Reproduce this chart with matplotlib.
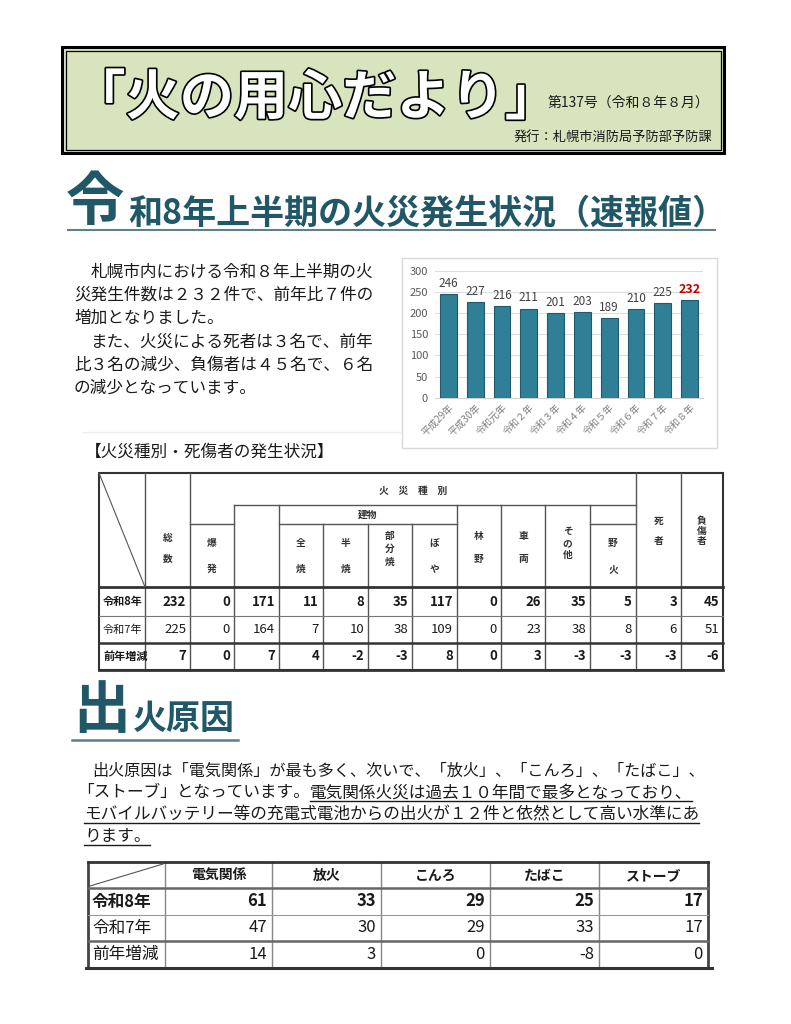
import matplotlib
matplotlib.use('Agg')
import matplotlib.pyplot as plt
import matplotlib.patheffects as pe
from matplotlib.patches import Rectangle

plt.rcParams['font.family'] = ['Noto Sans CJK JP', 'DejaVu Sans']

# ---- data ----
years = ['平成29年', '平成30年', '令和元年', '令和２年', '令和３年',
         '令和４年', '令和５年', '令和６年', '令和７年', '令和８年']
fires = [246, 227, 216, 211, 201, 203, 189, 210, 225, 232]

kind_cols = ['総数', '爆発', '建物', '全焼', '半焼', '部分焼', 'ぼや',
             '林野', '車両', 'その他', '野火', '死者', '負傷者']
row_labels = ['令和8年', '令和7年', '前年増減']
r8 = [232, 0, 171, 11, 8, 35, 117, 0, 26, 35, 5, 3, 45]
r7 = [225, 0, 164, 7, 10, 38, 109, 0, 23, 38, 8, 6, 51]
r_diff = [7, 0, 7, 4, -2, -3, 8, 0, 3, -3, -3, -3, -6]

causes = ['電気関係', '放火', 'こんろ', 'たばこ', 'ストーブ']
c8 = [61, 33, 29, 25, 17]
c7 = [47, 30, 29, 33, 17]
c_diff = [14, 3, 0, -8, 0]

TEAL = '#215868'
INK = '#1a1a1a'

fig = plt.figure(figsize=(7.91, 10.24), dpi=100)
ax = fig.add_axes([0, 0, 1, 1])
ax.set_xlim(0, 791)
ax.set_ylim(1024, 0)
ax.axis('off')

# ---- header box ----
ax.add_patch(Rectangle((62, 47), 662, 106, facecolor='#d7e4bd', edgecolor='black', lw=2.2))
ax.add_patch(Rectangle((65.5, 50.5), 655, 99, facecolor='none', edgecolor='black', lw=0.9))
ax.text(315, 99, '「火の用心だより」', fontsize=39, weight='bold', color='white',
        ha='center', va='center',
        path_effects=[pe.withStroke(linewidth=2.4, foreground='black')])
ax.text(548, 103, '第137号（令和８年８月）', fontsize=10, color=INK, va='center')
ax.text(712, 137, '発行：札幌市消防局予防部予防課', fontsize=9.5, color=INK,
        ha='right', va='center')

# ---- heading 1 ----
ax.text(66, 203, '令', fontsize=42, weight='bold', color=TEAL, va='center')
ax.text(128, 213, '和8年上半期の火災発生状況（速報値）', fontsize=24.5, weight='bold',
        color=TEAL, va='center')
ax.plot([68, 715], [230, 230], color='#5f808b', lw=1.5)

# ---- paragraph 1 ----
para1 = [(91, '札幌市内における令和８年上半期の火'),
         (74, '災発生件数は２３２件で、前年比７件の'),
         (74, '増加となりました。'),
         (91, 'また、火災による死者は３名で、前年'),
         (74, '比３名の減少、負傷者は４５名で、６名'),
         (74, 'の減少となっています。')]
for i, (x0, line) in enumerate(para1):
    ax.text(x0, 272 + i * 23.3, line, fontsize=12, color=INK, va='center')
ax.plot([83, 400], [432, 432], color='#eeeeee', lw=1)

# ---- bar chart ----
ax.add_patch(Rectangle((402, 258), 315, 190, facecolor='white', edgecolor='#d9d9d9', lw=1))
cax = fig.add_axes([435 / 791, 1 - 397.7 / 1024, 268 / 791, (397.7 - 271) / 1024])
xpos = list(range(len(years)))
cax.bar(xpos, fires, width=0.62, color='#2f7f96', edgecolor='#235a6b', lw=0.8, zorder=3)
cax.set_xlim(-0.5, 9.5)
cax.set_ylim(0, 300)
cax.set_yticks(range(0, 301, 50))
cax.grid(axis='y', color='#dcdcdc', lw=0.8, zorder=0)
for s in ['top', 'right', 'left']:
    cax.spines[s].set_visible(False)
cax.spines['bottom'].set_color('#d0d0d0')
cax.tick_params(axis='y', length=0, labelsize=8, labelcolor='#595959', pad=5)
cax.tick_params(axis='x', length=0, pad=3)
cax.set_xticks(xpos)
cax.set_xticklabels(years, rotation=45, ha='right', rotation_mode='anchor',
                    fontsize=7, color='#7f7f7f')
for i, v in enumerate(fires):
    last = i == len(fires) - 1
    cax.annotate(str(v), (i, v), xytext=(0, 3), textcoords='offset points',
                 ha='center', va='bottom', fontsize=9 if last else 8.5,
                 weight='bold' if last else 'normal',
                 color='#c00000' if last else '#404040')

# ---- table 1 ----
ax.text(85, 452, '【火災種別・死傷者の発生状況】', fontsize=12, color=INK, va='center')

xs = [99, 145, 190, 234, 279, 323, 368, 412, 457, 501, 545, 590, 636, 681, 723]
t_top, y_a, y_b, h_bot, y_r1, y_r2, t_bot = 473, 505, 524, 587, 616, 643, 670
grid_c = '#555555'

ax.add_patch(Rectangle((xs[0], t_top), xs[-1] - xs[0], t_bot - t_top,
                       facecolor='none', edgecolor='#333333', lw=1.5))
# vertical lines
for x0 in [145, 190, 636, 681]:
    ax.plot([x0, x0], [t_top, t_bot], color=grid_c, lw=1)
for x0 in [234, 279, 457, 501, 545, 590]:
    ax.plot([x0, x0], [y_a, t_bot], color=grid_c, lw=1)
for x0 in [323, 368, 412]:
    ax.plot([x0, x0], [y_b, t_bot], color=grid_c, lw=1)
# horizontal lines
ax.plot([234, 636], [y_a, y_a], color=grid_c, lw=1)
for a, b in [(190, 234), (279, 457), (590, 636)]:
    ax.plot([a, b], [y_b, y_b], color=grid_c, lw=1)
ax.plot([xs[0], xs[-1]], [h_bot, h_bot], color='#333333', lw=2)
ax.plot([xs[0], xs[-1]], [y_r1, y_r1], color='#777777', lw=0.8)
ax.plot([xs[0], xs[-1]], [y_r2, y_r2], color='#333333', lw=1.8)
ax.plot([xs[0], xs[-1]], [t_bot, t_bot], color='#333333', lw=2)
ax.plot([xs[0], xs[1]], [t_top, h_bot], color='#555555', lw=0.8)

ax.text(413, 491, '火　災　種　別', fontsize=7, weight='bold', color='#333333',
        ha='center', va='center')
ax.text((279 + 457) / 2, 515, '建物', fontsize=7, weight='bold', color='#333333',
        ha='center', va='center')

# header character positions (top y, step) per column
head_pos = {'総数': (538, 21), '爆発': (543, 26), '全焼': (543, 26), '半焼': (543, 26),
            '部分焼': (536, 13), 'ぼや': (543, 26), '林野': (536, 23), '車両': (536, 23),
            'その他': (531, 12), '野火': (543, 26), '死者': (521, 20), '負傷者': (521, 10)}
for j, name in enumerate(kind_cols):
    if name not in head_pos:
        continue
    cx = (xs[j + 1] + xs[j + 2]) / 2
    y0, step = head_pos[name]
    for k, ch in enumerate(name):
        ax.text(cx, y0 + k * step, ch, fontsize=7, weight='bold', color='#333333',
                ha='center', va='center')

row_y = [601.5, 629.5, 656.5]
for r, (lab, vals) in enumerate(zip(row_labels, [r8, r7, r_diff])):
    bold = 'normal' if r == 1 else 'bold'
    ax.text(103, row_y[r], lab, fontsize=8, weight=bold, color=INK, va='center')
    for j, v in enumerate(vals):
        ax.text(xs[j + 2] - 4, row_y[r], str(v), fontsize=9.5, weight=bold,
                color=INK, ha='right', va='center')

# ---- heading 2 ----
ax.text(73, 711, '出', fontsize=41, weight='bold', color=TEAL, va='center')
ax.text(133, 718, '火原因', fontsize=24.5, weight='bold', color=TEAL, va='center')
ax.plot([72, 238], [740, 740], color='#5f808b', lw=1.8)

# ---- paragraph 2 ----
renderer = fig.canvas.get_renderer()
inv = ax.transData.inverted()


def underline(t, pad=0.0):
    bb = t.get_window_extent(renderer)
    (x0, y0), (x1, y1) = inv.transform([[bb.x0, bb.y0], [bb.x1, bb.y1]])
    yb = max(y0, y1) - 1 + pad
    ax.plot([x0, x1], [yb, yb], color=INK, lw=1)


ax.text(92, 771, '出火原因は「電気関係」が最も多く、次いで、「放火」、「こんろ」、「たばこ」、',
        fontsize=11.6, color=INK, va='center')
t_a = ax.text(77, 793, '「ストーブ」となっています。', fontsize=12, color=INK, va='center')
bb = t_a.get_window_extent(renderer)
x_end = inv.transform([[bb.x1, bb.y0]])[0][0]
t_b = ax.text(x_end, 793, '電気関係火災は過去１０年間で最多となっており、',
              fontsize=12, color=INK, va='center')
underline(t_b)
t_c = ax.text(84, 815, 'モバイルバッテリー等の充電式電池からの出火が１２件と依然として高い水準にあ',
              fontsize=12, color=INK, va='center')
underline(t_c)
t_d = ax.text(84, 837, 'ります。', fontsize=12, color=INK, va='center')
underline(t_d)

# ---- table 2 ----
xs2 = [88, 165, 272, 381, 490, 599, 708]
ys2 = [862, 888, 915, 941, 968]
for x0 in xs2[1:-1]:
    ax.plot([x0, x0], [ys2[0], ys2[-1]], color='#888888', lw=1)
ax.plot([xs2[0], xs2[0]], [ys2[0], ys2[-1]], color='#444444', lw=2)
ax.plot([xs2[-1], xs2[-1]], [ys2[0], ys2[-1]], color='#444444', lw=2)
ax.plot([xs2[0], xs2[-1]], [ys2[0], ys2[0]], color='#333333', lw=2)
ax.plot([xs2[0], xs2[-1]], [ys2[1], ys2[1]], color='#666666', lw=1.8)
ax.plot([xs2[0], xs2[-1]], [ys2[2], ys2[2]], color='#999999', lw=0.8)
ax.plot([xs2[0], xs2[-1]], [ys2[3], ys2[3]], color='#666666', lw=1.8)
ax.plot([xs2[0] - 2, xs2[-1] + 4], [ys2[4], ys2[4]], color='#333333', lw=2.2)
ax.plot([xs2[0] + 2, xs2[1] - 2], [ys2[1] - 2, ys2[0] + 2], color='#555555', lw=0.8)

for j, name in enumerate(causes):
    ax.text((xs2[j + 1] + xs2[j + 2]) / 2, 876, name, fontsize=10, weight='bold',
            color=INK, ha='center', va='center')
for r, (lab, vals) in enumerate(zip(row_labels, [c8, c7, c_diff])):
    yc = (ys2[r + 1] + ys2[r + 2]) / 2
    bold = 'bold' if r == 0 else 'normal'
    ax.text(92, yc, lab, fontsize=12, weight=bold, color=INK, va='center')
    for j, v in enumerate(vals):
        ax.text(xs2[j + 2] - 5, yc, str(v), fontsize=12, weight=bold,
                color=INK, ha='right', va='center')

fig.savefig('out.png', dpi=100, facecolor='white')
